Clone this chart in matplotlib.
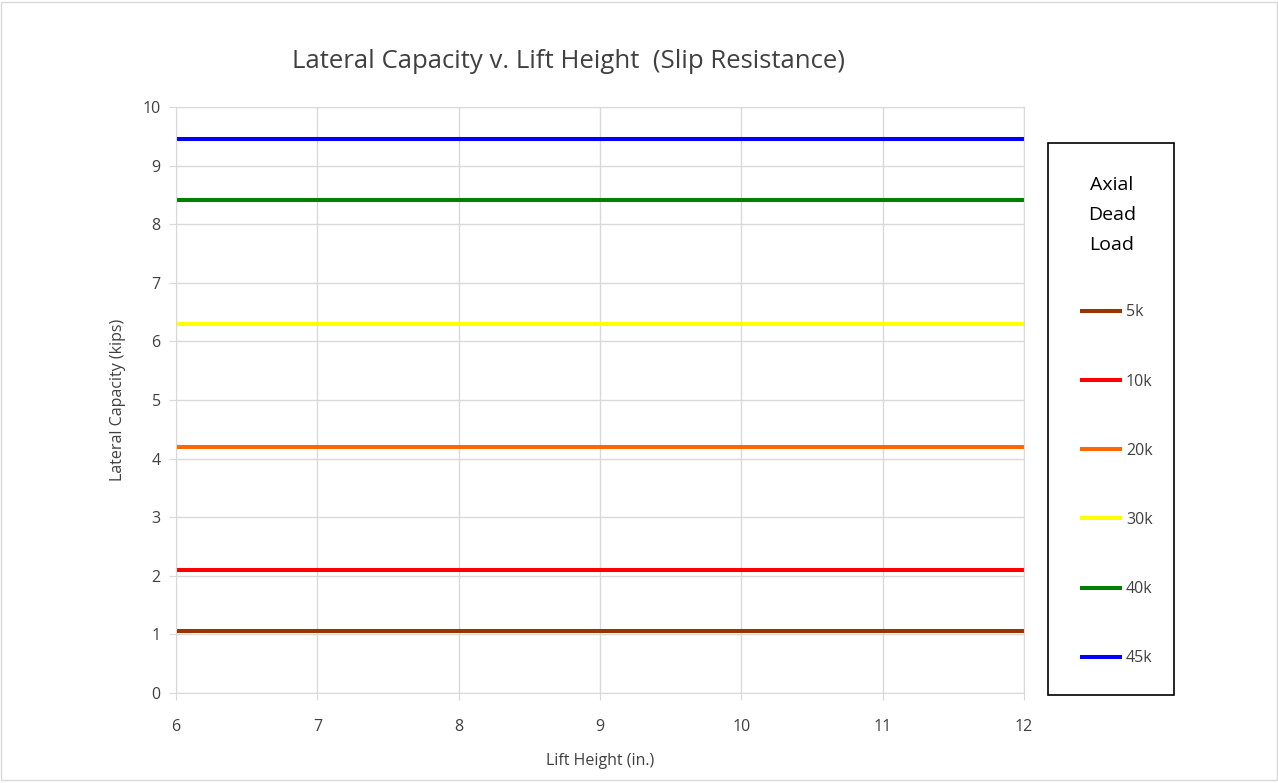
import matplotlib.pyplot as plt
from matplotlib.patches import Rectangle

# data
lift_height = [6, 7, 8, 9, 10, 11, 12]
series_labels = ["5k", "10k", "20k", "30k", "40k", "45k"]
capacity = [1.05, 2.1, 4.2, 6.3, 8.41, 9.45]
colors = ["#993300", "#FF0000", "#FF6600", "#FFFF00", "#008000", "#0000FF"]

plt.rcParams["font.family"] = ["Open Sans", "DejaVu Sans"]

fig = plt.figure(figsize=(12.78, 7.83), dpi=100)
ax = fig.add_axes((176 / 1278, 1 - 693 / 783, 848 / 1278, 586 / 783))

for label, val, c in zip(series_labels, capacity, colors):
    ax.plot(lift_height, [val] * len(lift_height), color=c, lw=2.9,
            label=label, solid_capstyle="butt")

ax.set_xlim(6, 12)
ax.set_ylim(0, 10)
ax.set_xticks(range(6, 13))
ax.set_yticks(range(0, 11))
ax.grid(True, color="#d9d9d9", lw=1)
ax.set_axisbelow(True)
for s in ax.spines.values():
    s.set_color("#d9d9d9")
ax.tick_params(axis="both", colors="#d9d9d9", labelcolor="#404040",
               labelsize=11.5, length=5)
ax.tick_params(axis="x", pad=14)
ax.tick_params(axis="y", pad=6)

ax.set_xlabel("Lift Height (in.)", fontsize=11.5, color="#404040", labelpad=13)
ax.set_ylabel("Lateral Capacity (kips)", fontsize=11.5, color="#404040",
              labelpad=12)
fig.text(568 / 1278, 1 - 61 / 783, "Lateral Capacity v. Lift Height  (Slip Resistance)",
         fontsize=18.5, color="#404040", ha="center", va="center")

# legend box
fig.patches.append(Rectangle((1048 / 1278, 1 - 695 / 783), 126 / 1278, 552 / 783,
                             transform=fig.transFigure, fill=False,
                             edgecolor="black", lw=1.2))
fig.text(1112 / 1278, 1 - 215 / 783, "Axial\nDead\nLoad", fontsize=14,
         ha="center", va="center", linespacing=1.85, color="black")
handles, labels = ax.get_legend_handles_labels()
leg = fig.legend(handles, labels, loc="upper left",
                 bbox_to_anchor=(1066 / 1278, 1 - 290 / 783),
                 frameon=False, fontsize=11.5, labelspacing=3.33,
                 handlelength=2.6, handletextpad=0.25, labelcolor="#404040")

# outer border
fig.patches.append(Rectangle((0.001, 0.004), 0.998, 0.993, transform=fig.transFigure,
                             fill=False, edgecolor="#d9d9d9", lw=1))

fig.savefig("out.png", dpi=100)
